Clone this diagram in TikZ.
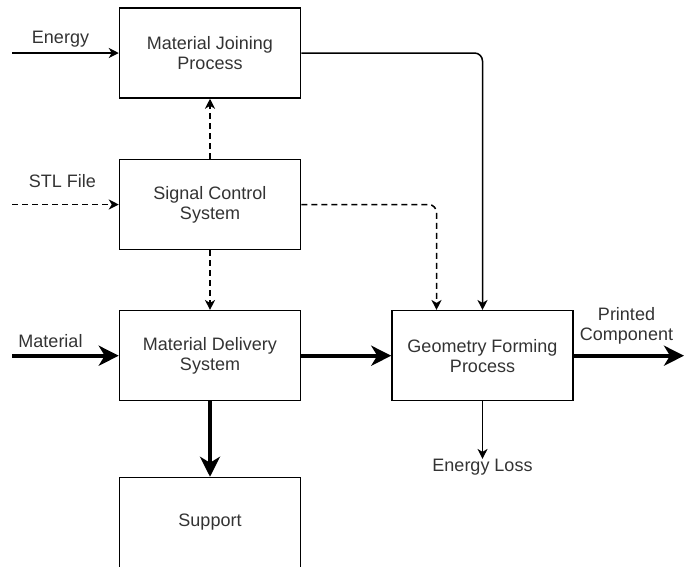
\documentclass[tikz,border=0pt]{standalone}
\usepackage{fontspec}
\setmainfont{Liberation Sans}
\usepackage{xcolor}
\usepackage{tikz}
\usetikzlibrary{arrows.meta, positioning}

\definecolor{txtgray}{HTML}{333333}

\begin{document}
\begin{tikzpicture}[
            x=1pt, y=-1pt,
            font=\fontsize{18}{20}\selectfont,
            proc/.style={rectangle, draw, line width=1.5pt, minimum width=181pt, minimum height=90pt, align=center, text=txtgray, inner sep=0pt},
            flow/.style={line width=1.5pt, -{Stealth[length=10pt, width=10pt, inset=3pt]}},
            ctrl/.style={flow, dash pattern=on 6pt off 4pt},
            mass/.style={line width=4pt, -{Stealth[length=20pt, width=20pt, inset=6pt]}},
            lbl/.style={text=txtgray, align=center, inner sep=0pt}
        ]
        \useasboundingbox (0,0) rectangle (684,566);

        % Process blocks
        \node[proc] (join) at (210,53) {Material Joining\\Process};
        \node[proc] (signal) at (210,204.5) {Signal Control\\System};
        \node[proc] (deliv) at (210,355.7) {Material Delivery\\System};
        \node[proc] (support) at (210,522.5) {Support};
        \node[proc] (geom) at (482.5,355.7) {Geometry Forming\\Process};

        % Inputs
        \coordinate (energyin) at (12,53);
        \coordinate (stlin) at (12,204.5);
        \coordinate (matin) at (12,355.7);
        \coordinate (partout) at (684,355.7);

        \draw[flow] (energyin) -- (join);
        \draw[ctrl] (stlin) -- (signal);
        \draw[mass] (matin) -- (deliv);

        % Control signals
        \draw[ctrl] (signal) -- (join);
        \draw[ctrl] (signal) -- (deliv);
        \draw[ctrl, rounded corners=8pt] (signal.east) -| ([xshift=-46pt]geom.north);

        % Energy and material flow
        \draw[flow, rounded corners=8pt] (join.east) -| (geom.north);
        \draw[mass] (deliv) -- (geom);
        \draw[mass] (deliv) -- (support);
        \draw[mass] (geom) -- (partout);

        % Labels
        \node[lbl, anchor=base] (energyl) at (60.5,43.5) {Energy};
        \node[lbl, anchor=base] (stll) at (62.5,187) {STL File};
        \node[lbl, anchor=base] (matl) at (50.5,347) {Material};
        \node[lbl] (partl) at (626.5,326) {Printed\\Component};
        \node[lbl, anchor=base] (lossl) at (482.5,471.5) {Energy Loss};
        \draw[flow] (geom.south) -- (lossl.north);

    \end{tikzpicture}
\end{document}
